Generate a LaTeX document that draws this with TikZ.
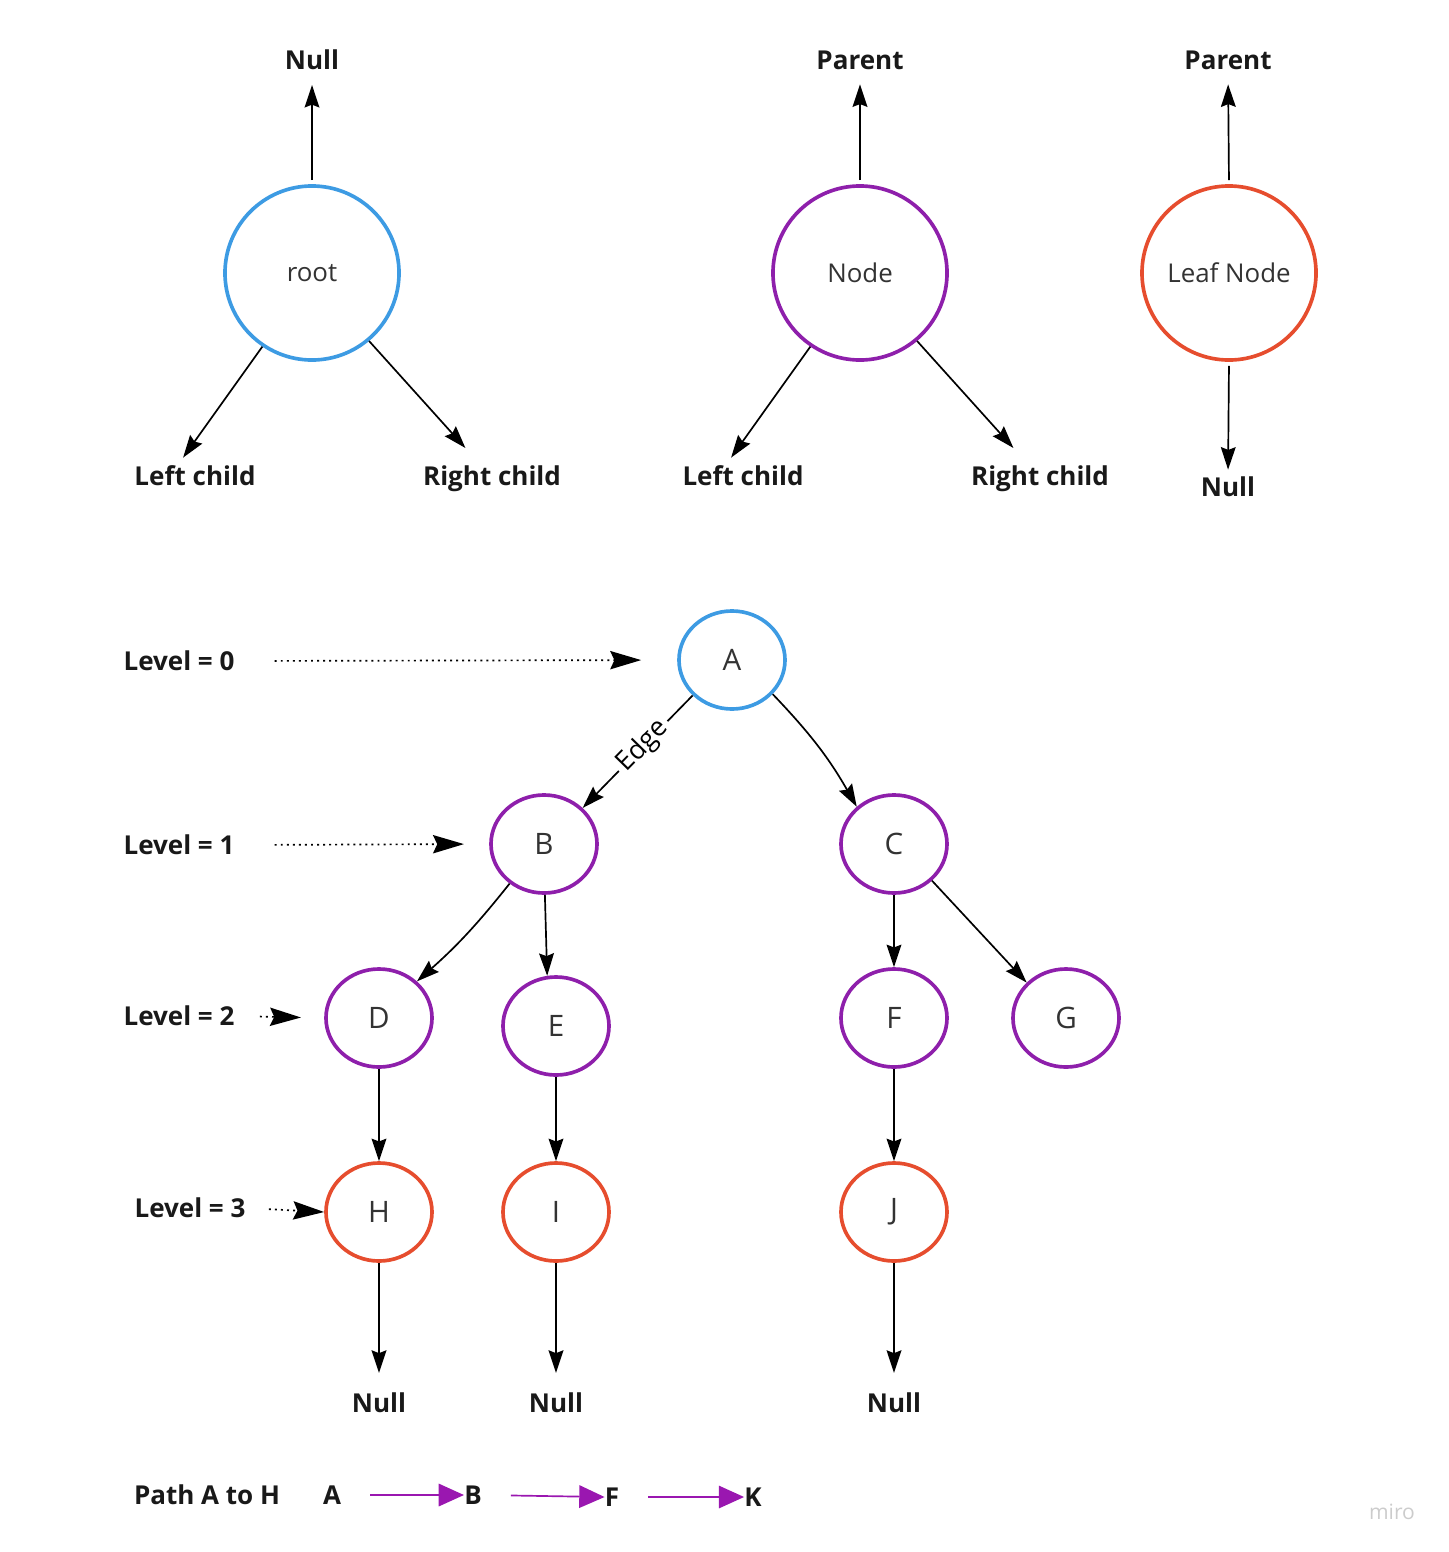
\documentclass[tikz,border=0pt]{standalone}
\usepackage{fontspec}
\setmainfont{Open Sans}
\usetikzlibrary{arrows.meta,shapes.geometric}
\definecolor{rootblue}{HTML}{3D9BE3}
\definecolor{nodepurple}{HTML}{8E1FAB}
\definecolor{leafred}{HTML}{E64D2E}
\definecolor{pathpurple}{HTML}{9A17B0}

\begin{document}
\begin{tikzpicture}[x=0.025cm, y=-0.025cm,
big/.style={circle, draw, line width=2.6pt, minimum size=4.35cm, inner sep=0, text=black!80, font=\fontsize{18.4}{22}\selectfont},
tn/.style={ellipse, draw, line width=2.6pt, minimum width=2.65cm, minimum height=2.45cm, inner sep=0, text=black!80, font=\fontsize{21}{25}\selectfont},
lab/.style={inner sep=0, text depth=0pt, text=black!90, font=\bfseries\fontsize{18.5}{22}\selectfont},
link/.style={-{Stealth[length=16pt, width=10.5pt, inset=2pt]}, line width=1.2pt},
lvl/.style={dash pattern=on 1.4pt off 2.9pt, line width=1.2pt, -{Stealth[length=22pt, width=13pt, inset=3pt]}},
hop/.style={pathpurple, line width=1.2pt, -{Triangle[length=18pt, width=16pt]}}]
	\useasboundingbox (0,0) rectangle (1448,1552);
	\node[big, draw=rootblue] at (312,273) (root) {root};
	\node[lab] at (312,60) (rootup) {Null};
	\node[lab] at (195,476) (rootl) {Left child};
	\node[lab] at (492,476) (rootr) {Right child};
	\draw[link, shorten <=0.1cm, shorten >=0.37cm] (root.north) -- (rootup.south);
	\draw[link, shorten >=0.25cm] (root.-124) -- (rootl.150);
	\draw[link, shorten >=0.6cm] (root.-50) -- (rootr.136);
	\node[big, draw=nodepurple] at (860,273) (mid) {Node};
	\node[lab] at (860,60) (midup) {Parent};
	\node[lab] at (743,476) (midl) {Left child};
	\node[lab] at (1040,476) (midr) {Right child};
	\draw[link, shorten <=0.1cm, shorten >=0.37cm] (mid.north) -- (midup.south);
	\draw[link, shorten >=0.25cm] (mid.-124) -- (midl.150);
	\draw[link, shorten >=0.6cm] (mid.-50) -- (midr.136);
	\node[big, draw=leafred] at (1229,273) (leaf) {Leaf Node};
	\node[lab] at (1228,60) (leafup) {Parent};
	\node[lab] at (1228,487) (leafdn) {Null};
	\draw[link, shorten <=0.1cm, shorten >=0.37cm] (leaf.north) -- (leafup.south);
	\draw[link, shorten <=0.1cm, shorten >=0.18cm] (leaf.south) -- (leafdn.north);
	\node[tn, draw=rootblue] at (732,660) (A) {A};
	\node[tn, draw=nodepurple] at (544,844) (B) {B};
	\node[tn, draw=nodepurple] at (894,844) (C) {C};
	\node[tn, draw=nodepurple] at (379,1018) (D) {D};
	\node[tn, draw=nodepurple] at (556,1026) (E) {E};
	\node[tn, draw=nodepurple] at (894,1018) (F) {F};
	\node[tn, draw=nodepurple] at (1066,1018) (G) {G};
	\node[tn, draw=leafred] at (379,1212) (H) {H};
	\node[tn, draw=leafred] at (556,1212) (I) {I};
	\node[tn, draw=leafred] at (894,1212) (J) {J};
	\node[lab] at (379,1403) (Hnull) {Null};
	\node[lab] at (556,1403) (Inull) {Null};
	\node[lab] at (894,1403) (Jnull) {Null};
	\draw[link] (A.-138) -- node[pos=0.45, sloped, fill=white, inner sep=3pt, font=\fontsize{19}{22}\selectfont] (edge) {Edge} (B.43);
	\draw[link] (A.-40) to[bend left=7] (C.135);
	\draw[link] (B.-131) to[bend left=5] (D.44);
	\draw[link] (B.-89) -- (E.100);
	\draw[link] (C.south) -- (F.north);
	\draw[link] (C.-44) -- (G.138);
	\draw[link] (D.south) -- (H.north);
	\draw[link] (E.south) -- (I.north);
	\draw[link] (F.south) -- (J.north);
	\draw[link, shorten >=0.5cm] (H.south) -- (Hnull.north);
	\draw[link, shorten >=0.5cm] (I.south) -- (Inull.north);
	\draw[link, shorten >=0.5cm] (J.south) -- (Jnull.north);
	\node[lab] at (179,661) (lv0) {Level = 0};
	\node[lab] at (179,845) (lv1) {Level = 1};
	\node[lab] at (179,1016) (lv2) {Level = 2};
	\node[lab] at (190,1208) (lv3) {Level = 3};
	\draw[lvl, shorten <=1cm, shorten >=0.9cm] (lv0.east) -- (A.west);
	\draw[lvl, shorten <=1cm, shorten >=0.63cm] (lv1.east) -- (B.west);
	\draw[lvl, shorten <=0.63cm, shorten >=0.58cm] (lv2.east) -- (D.west);
	\draw[lvl, shorten <=0.58cm] (lv3.east) -- (H.west);
	\node[lab] at (207,1495) (route) {Path A to H};
	\node[lab] at (332,1495) (p1) {A};
	\node[lab] at (473,1495) (p2) {B};
	\node[lab] at (612,1497) (p3) {F};
	\node[lab] at (753,1497) (p4) {K};
	\draw[hop, shorten <=0.72cm] (p1.east) -- (p2.west);
	\draw[hop, shorten <=0.72cm] (p2.east) -- (p3.west);
	\draw[hop, shorten <=0.72cm] (p3.east) -- (p4.west);
	\node[text=black!20, font=\fontsize{15}{18}\selectfont] at (1392,1512) (wm) {miro};
\end{tikzpicture}
\end{document}
